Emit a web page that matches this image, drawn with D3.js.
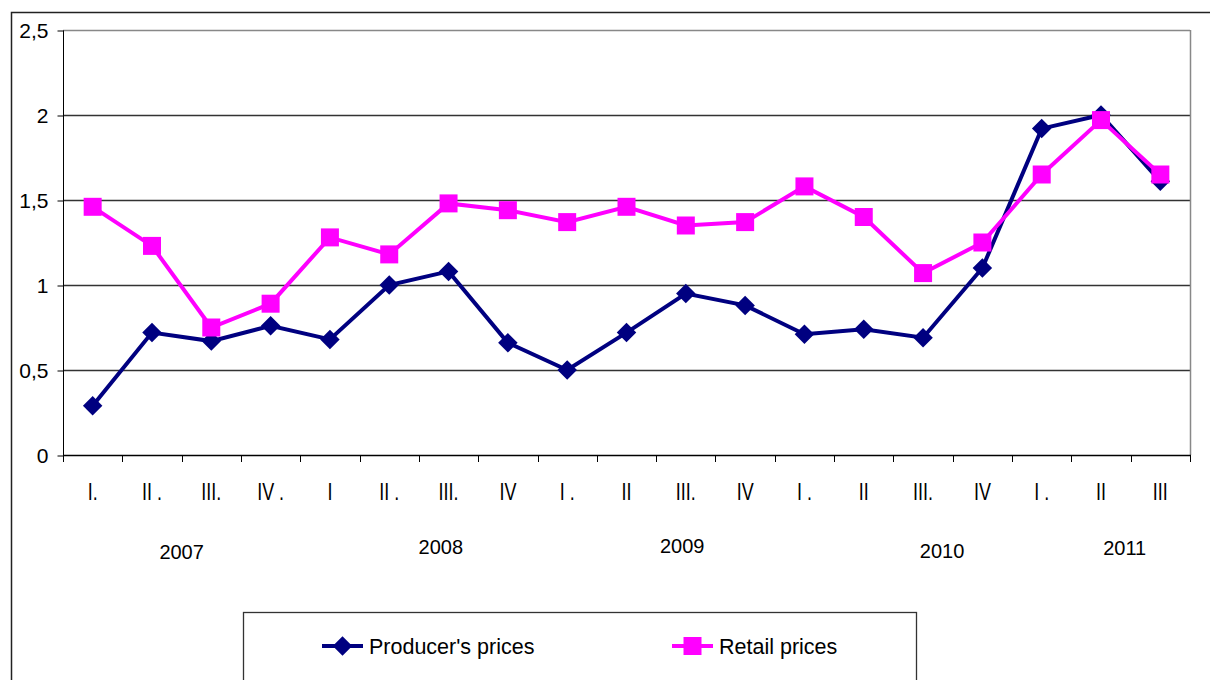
<!DOCTYPE html>
<html>
<head>
<meta charset="utf-8">
<script src="https://cdn.jsdelivr.net/npm/d3@7"></script>
<style>
    body { margin: 0; background: #fff; }
    svg { display: block; font-family: 'Liberation Sans', Arial, sans-serif; }
</style>
</head>
<body>
<svg id="chart" width="1210" height="680"></svg>
<script>
const quarters = ['I.', 'II .', 'III.', 'IV .', 'I', 'II .', 'III.', 'IV', 'I .', 'II',
    'III.', 'IV', 'I .', 'II', 'III.', 'IV', 'I .', 'II', 'III'];
const producerPrices = [0.29, 0.72, 0.67, 0.76, 0.68, 1.0, 1.08, 0.66, 0.5, 0.72,
    0.95, 0.88, 0.71, 0.74, 0.69, 1.1, 1.92, 2.0, 1.61];
const retailPrices = [1.46, 1.23, 0.75, 0.89, 1.28, 1.18, 1.48, 1.44, 1.37, 1.46,
    1.35, 1.37, 1.58, 1.40, 1.07, 1.25, 1.65, 1.97, 1.65];
const years = ['2007', '2008', '2009', '2010', '2011'];
// where each year label sits, counted in quarters from the left edge
const yearAt = [2.0, 6.37, 10.44, 14.82, 17.9];
const yearDy = [6, 1, 0, 5, 2];
const yTicks = [0, 0.5, 1, 1.5, 2, 2.5];
const seriesNames = ["Producer's prices", 'Retail prices'];

const navy = '#000080';
const magenta = '#ff00ff';

const plot = { left: 63, right: 1190, top: 30, bottom: 455 };

const svg = d3.select('#chart');

// outer chart frame
svg.append('rect')
    .attr('x', 11.5)
    .attr('y', 12.5)
    .attr('width', 1250)
    .attr('height', 720)
    .attr('fill', 'none')
    .attr('stroke', '#222')
    .attr('stroke-width', 1.5);

const xScale = d3.scaleBand()
    .domain(d3.range(quarters.length))
    .range([plot.left, plot.right]);

const yScale = d3.scaleLinear()
    .domain([0, 2.5])
    .range([plot.bottom, plot.top]);

// gridlines
svg.append('g')
    .selectAll('line')
    .data(yTicks.filter(d => d > 0))
    .enter()
    .append('line')
    .attr('x1', plot.left)
    .attr('x2', plot.right)
    .attr('y1', d => Math.round(yScale(d)) + 0.5)
    .attr('y2', d => Math.round(yScale(d)) + 0.5)
    .attr('stroke', d => d === 2.5 ? '#888' : '#333')
    .attr('stroke-width', 1.3);

// right border of plot area
svg.append('line')
    .attr('x1', plot.right + 0.5)
    .attr('x2', plot.right + 0.5)
    .attr('y1', plot.top)
    .attr('y2', plot.bottom)
    .attr('stroke', '#888')
    .attr('stroke-width', 1.5);

// y axis
const yAxis = d3.axisLeft(yScale)
    .tickValues(yTicks)
    .tickSize(6)
    .tickPadding(9)
    .tickFormat(d => String(d).replace('.', ','));

const yAxisGroup = svg.append('g')
    .attr('transform', `translate(${plot.left + 0.5}, 0.5)`)
    .call(yAxis);

yAxisGroup.select('.domain')
    .attr('d', `M0,${plot.top}V${plot.bottom}`)
    .attr('stroke', '#000');
yAxisGroup.selectAll('.tick line').attr('stroke', '#000');
yAxisGroup.selectAll('.tick text')
    .attr('fill', '#000')
    .style('font-size', '21px')
    .style('font-family', "'Liberation Sans', Arial, sans-serif");

// x axis: ticks on category boundaries
const boundaries = d3.range(quarters.length + 1)
    .map(i => i < quarters.length ? xScale(i) : plot.right);

svg.append('line')
    .attr('x1', plot.left)
    .attr('x2', plot.right + 1)
    .attr('y1', plot.bottom + 0.5)
    .attr('y2', plot.bottom + 0.5)
    .attr('stroke', '#000')
    .attr('stroke-width', 1.5);

svg.append('g')
    .selectAll('line')
    .data(boundaries)
    .enter()
    .append('line')
    .attr('x1', d => Math.round(d) + 0.5)
    .attr('x2', d => Math.round(d) + 0.5)
    .attr('y1', plot.bottom)
    .attr('y2', plot.bottom + 7)
    .attr('stroke', '#000');

// quarter labels are tall and narrow in the original
svg.append('g')
    .selectAll('text')
    .data(quarters)
    .enter()
    .append('text')
    .attr('transform', (d, i) =>
        `translate(${xScale(i) + xScale.bandwidth() / 2}, 500) scale(0.78, 1)`)
    .attr('text-anchor', 'middle')
    .style('font-size', '23px')
    .attr('fill', '#000')
    .text(d => d);

svg.append('g')
    .selectAll('text')
    .data(years)
    .enter()
    .append('text')
    .attr('x', (d, i) => plot.left + yearAt[i] * xScale.bandwidth())
    .attr('y', (d, i) => 553 + yearDy[i])
    .attr('text-anchor', 'middle')
    .style('font-size', '20px')
    .attr('fill', '#000')
    .text(d => d);

// series
const line = d3.line()
    .x((d, i) => xScale(i) + xScale.bandwidth() / 2)
    .y(d => yScale(d));

const diamond = d3.symbol().type(d3.symbolSquare).size(190);
const square = d3.symbol().type(d3.symbolSquare).size(324);

const drawSeries = (values, color, kind) => {
    const g = svg.append('g');

    g.append('path')
        .datum(values)
        .attr('d', line)
        .attr('fill', 'none')
        .attr('stroke', color)
        .attr('stroke-width', 4)
        .attr('stroke-linejoin', 'miter');

    g.selectAll('path.marker')
        .data(values)
        .enter()
        .append('path')
        .attr('class', 'marker')
        .attr('d', kind === 'diamond' ? diamond : square)
        .attr('transform', (d, i) => {
            const x = xScale(i) + xScale.bandwidth() / 2;
            const y = yScale(d);
            return kind === 'diamond'
                ? `translate(${x}, ${y}) rotate(45)`
                : `translate(${x}, ${y})`;
        })
        .attr('fill', color);
};

drawSeries(producerPrices, navy, 'diamond');
drawSeries(retailPrices, magenta, 'square');

// legend
const legend = svg.append('g');

legend.append('rect')
    .attr('x', 243.5)
    .attr('y', 612.5)
    .attr('width', 673)
    .attr('height', 100)
    .attr('fill', '#fff')
    .attr('stroke', '#333')
    .attr('stroke-width', 1.3);

const legendItems = [
    { name: seriesNames[0], color: navy, kind: 'diamond', x: 322 },
    { name: seriesNames[1], color: magenta, kind: 'square', x: 672 }
];

legendItems.forEach(item => {
    legend.append('line')
        .attr('x1', item.x)
        .attr('x2', item.x + 41)
        .attr('y1', 646)
        .attr('y2', 646)
        .attr('stroke', item.color)
        .attr('stroke-width', 4);

    legend.append('path')
        .attr('d', item.kind === 'diamond' ? diamond : square)
        .attr('transform', item.kind === 'diamond'
            ? `translate(${item.x + 20.5}, 646) rotate(45)`
            : `translate(${item.x + 20.5}, 646)`)
        .attr('fill', item.color);

    legend.append('text')
        .attr('x', item.x + 47)
        .attr('y', 654)
        .style('font-size', '21.5px')
        .attr('fill', '#000')
        .text(item.name);
});
</script>
</body>
</html>
